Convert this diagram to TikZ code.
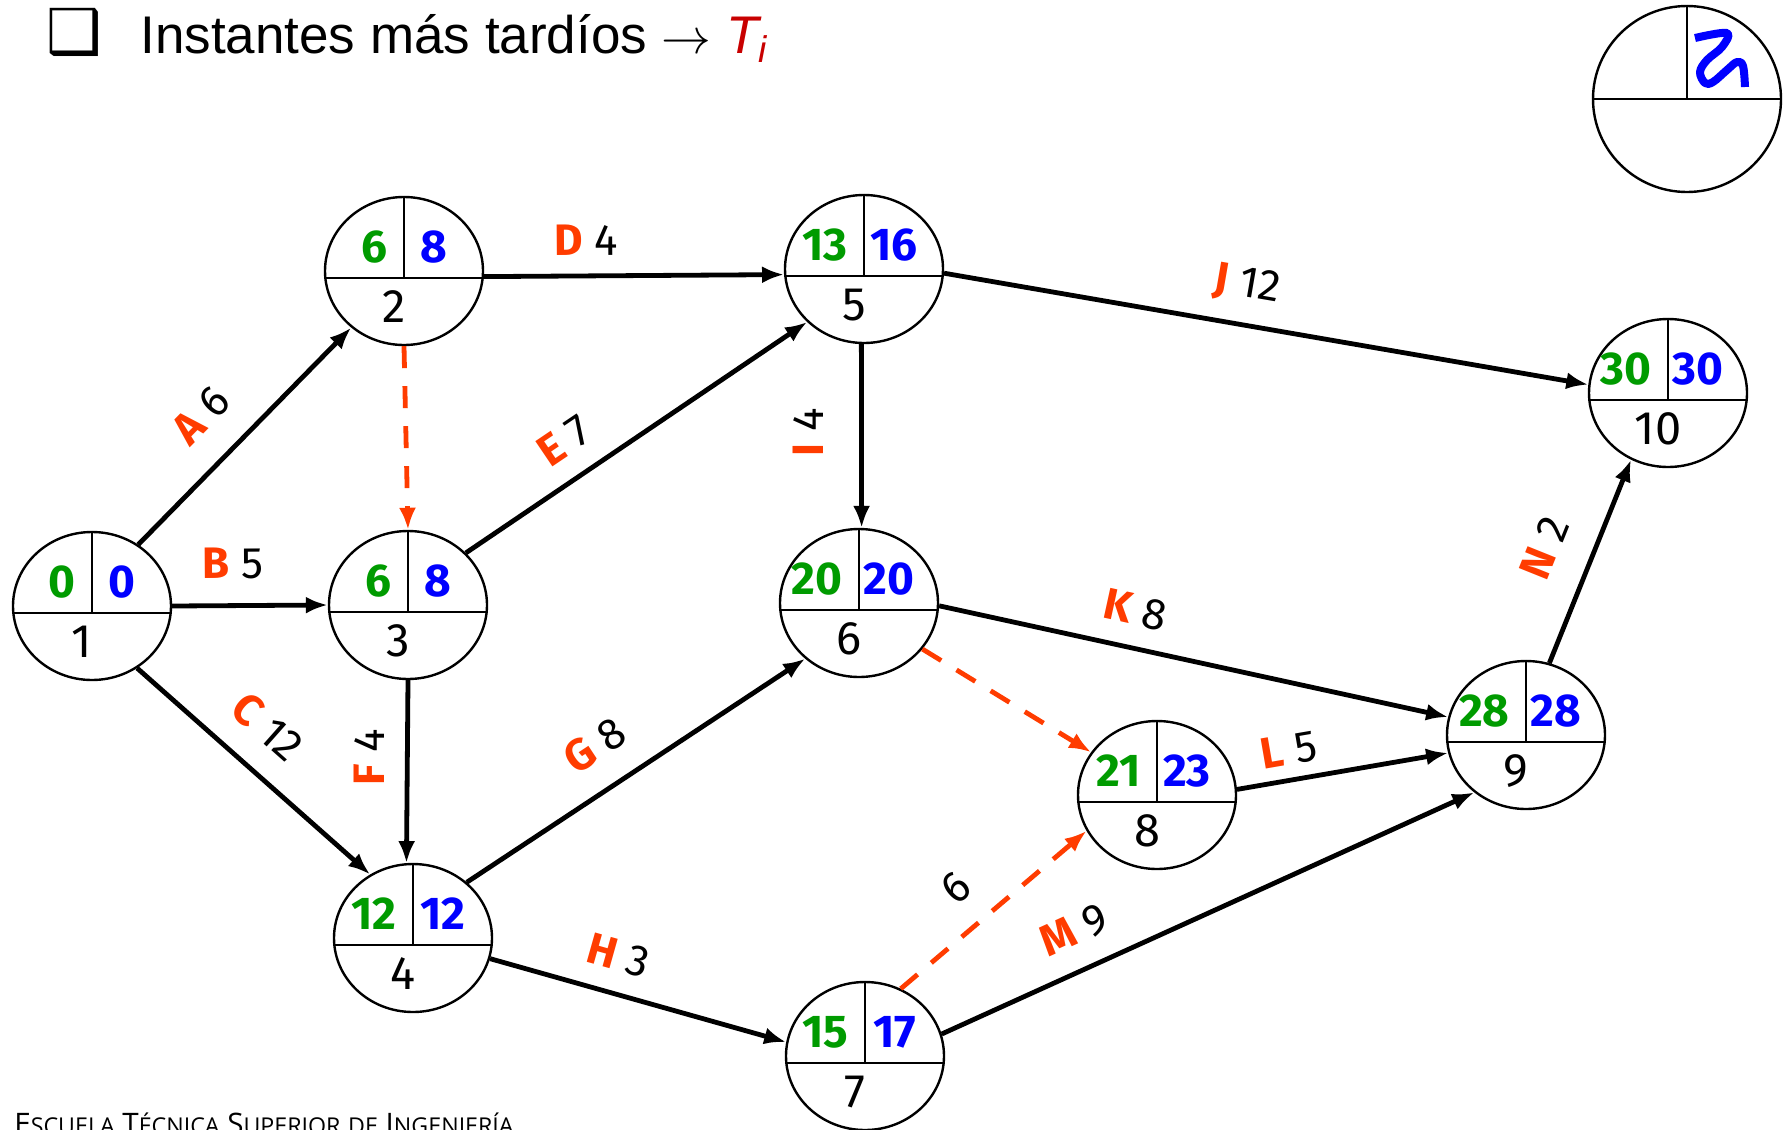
\documentclass[tikz,border=0pt]{standalone}
\usepackage{fontspec}
\setmainfont{Liberation Sans}
\newfontfamily\numfont{Fira Sans}
\newfontfamily\symfont{DejaVu Sans}
\newfontfamily\footfont{Open Sans}
\usetikzlibrary{positioning,arrows.meta,calc,shapes.geometric}
\definecolor{tgreen}{RGB}{0,155,0}
\definecolor{tblue}{RGB}{0,0,255}
\definecolor{actred}{RGB}{255,60,0}
\definecolor{titred}{RGB}{200,0,0}
\newcommand{\act}[2]{{\bfseries\color{actred}#1}\ #2}
\newcommand{\fsc}[2]{#1{\fontsize{11.6}{11}\selectfont #2}}
\newcommand{\evento}[5]{%
 \node[evt] (#1) at (#2) {};
 \draw[divline] ([yshift=-3.5pt]#1.west) -- ([yshift=-3.5pt]#1.east);
 \draw[divline] (#1.north) -- ([yshift=-3.5pt]#1.center);
 \node[early] (#1e) at ([xshift=-8pt,yshift=12pt]#1.center) {#3};
 \node[late] (#1l) at ([xshift=15pt,yshift=12pt]#1.center) {#4};
 \node[evnum] (#1n) at ([xshift=-5pt,yshift=-18pt]#1.center) {#5};}

\begin{document}
\begin{tikzpicture}[x=0.5pt,y=-0.5pt,
 evt/.style={ellipse,draw,line width=1.2pt,minimum width=79pt,minimum height=74pt,inner sep=0pt},
 divline/.style={line width=1.4pt},
 early/.style={anchor=east,inner sep=0pt,text=tgreen,font=\numfont\bfseries\fontsize{23}{23}\selectfont},
 late/.style={inner sep=0pt,text=tblue,font=\numfont\bfseries\fontsize{23}{23}\selectfont},
 evnum/.style={inner sep=0pt,font=\numfont\fontsize{23.5}{23}\selectfont},
 arr/.style={-{Latex[length=11pt,width=8.5pt]},line width=2.4pt},
 dum/.style={arr,draw=actred,dash pattern=on 11pt off 9pt},
 lbl/.style={sloped,anchor=south,inner sep=10pt,font=\numfont\fontsize{22}{22}\selectfont},
 lblv/.style={rotate=90,anchor=south,inner sep=10pt,font=\numfont\fontsize{22}{22}\selectfont}]
\useasboundingbox (0,0) rectangle (1789,1130);
% title and footer
\node[anchor=base west,inner sep=0pt] (bul) at (46,53) {\symfont\bfseries\fontsize{31}{30}\selectfont ❑};
\node[anchor=base west,inner sep=0pt] (ttl) at (140,53) {\fontsize{26.5}{30}\selectfont Instantes más tardíos $\rightarrow$ \textcolor{titred}{\itshape T\textsubscript{i}}};
\node[anchor=base west,inner sep=0pt] (foot) at (14,1134) {\footfont\fontsize{14.8}{14}\selectfont \fsc{E}{SCUELA} \fsc{T}{ÉCNICA} \fsc{S}{UPERIOR} \fsc{}{DE} \fsc{I}{NGENIERÍA}};
% key
\node[evt,minimum width=94pt,minimum height=93pt] (key) at (1687,99) {};
\draw[divline] (key.west) -- (key.east);\draw[divline] (key.north) -- (key.center);
\draw[tblue,line width=4pt,line join=round] plot[smooth,tension=.6] coordinates {(1695,38) (1727,33) (1722,47) (1707,60) (1700,72) (1705,83) (1713,82) (1727,70) (1737,62) (1743,66) (1745,87)};
% events
\evento{n1}{92,606}{0}{0}{1}
\evento{n2}{404,271}{6}{8}{2}
\evento{n3}{408,605}{6}{8}{3}
\evento{n4}{413,938}{12}{12}{4}
\evento{n5}{864,269}{13}{16}{5}
\evento{n6}{859,603}{20}{20}{6}
\evento{n7}{865,1056}{15}{17}{7}
\evento{n8}{1157,795}{21}{23}{8}
\evento{n9}{1526,735}{28}{28}{9}
\evento{n10}{1668,393}{30}{30}{10}
% activities
\draw[arr] (n1.53) -- node[lbl,pos=.45,inner sep=14pt] {\act{A}{6}} (n2.227);
\draw[arr] (n1.east) -- node[lbl,pos=.39,inner sep=12pt] {\act{B}{5}} (n3.west);
\draw[arr] (n1.-54) -- node[lbl,pos=.44,inner sep=12pt] {\act{C}{12}} (n4.124);
\draw[arr] (n2.-4) -- node[lbl,pos=.34,inner sep=9pt] {\act{D}{4}} (n5.184);
\draw[dum] (n2.south) -- (n3.north);
\draw[arr] (n3.42) -- node[lbl,pos=.35] {\act{E}{7}} (n5.223);
\draw[arr] (n3.south) -- node[lblv,pos=.42] {\act{F}{4}} (n4.95);
\draw[arr] (n4.46) -- node[lbl,pos=.45,inner sep=13pt] {\act{G}{8}} (n6.226);
\draw[arr] (n4.-15) -- node[lbl,pos=.4] {\act{H}{3}} (n7.170);
\draw[arr] (n5.-92) -- node[lblv,pos=.48,inner sep=18pt] {\act{I}{4}} (n6.88);
\draw[arr] (n5.-3) -- node[lbl,pos=.46,inner sep=9pt] {\act{J}{12}} (n10.174);
\draw[arr] (n6.-2) -- node[lbl,pos=.37] {\act{K}{8}} (n9.167);
\draw[dum] (n6.-36) -- (n8.147);
\draw[dum] (n7.62) -- node[lbl,pos=.44,inner sep=12pt] {6} (n8.207);
\draw[arr] (n8.4) -- node[lbl,pos=.27,inner sep=6pt] {\act{L}{5}} (n9.193);
\draw[arr] (n7.16) -- node[lbl,pos=.28,inner sep=11pt] {\act{M}{9}} (n9.228);
\draw[arr] (n9.72) -- node[lbl,pos=.48,inner sep=15pt] {\act{N}{2}} (n10.241);
\end{tikzpicture}
\end{document}
